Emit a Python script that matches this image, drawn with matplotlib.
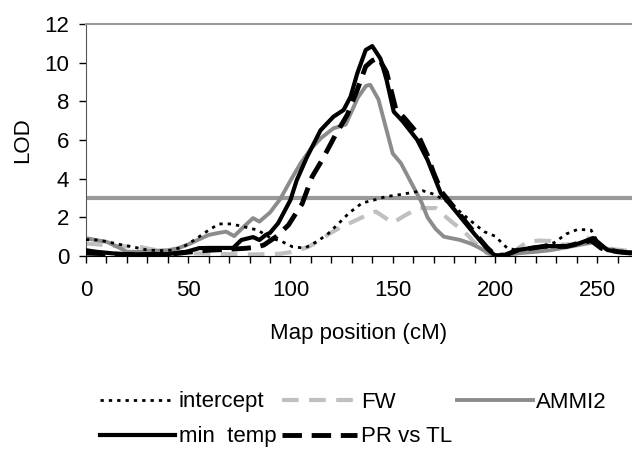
import matplotlib
matplotlib.use("Agg")
import matplotlib.pyplot as plt
from matplotlib.ticker import MultipleLocator

plt.rcParams["font.family"] = ["Liberation Sans", "DejaVu Sans"]

# LOD profiles, (position cM, LOD)
intercept_x = [0, 6, 12, 18, 24, 30, 36, 42, 48, 54, 60, 65, 71, 77, 84, 90, 96, 101, 107,
               113, 118.6, 123.6, 128.6, 135, 141, 146.6, 152, 158.8, 164.5, 170, 176,
               181.7, 188, 194.7, 200, 206, 211, 220, 229, 234.8, 240.5, 247, 252, 258, 267]
intercept_y = [0.85, 0.83, 0.7, 0.57, 0.45, 0.31, 0.28, 0.3, 0.5, 0.9, 1.34, 1.66, 1.66, 1.52,
               1.34, 0.95, 0.74, 0.48, 0.41, 0.75, 1.17, 1.69, 2.22, 2.74, 2.9, 3.07, 3.15,
               3.27, 3.38, 3.2, 2.85, 2.4, 1.83, 1.26, 1.03, 0.41, 0.3, 0.45, 0.69, 1.14,
               1.38, 1.34, 0.4, 0.3, 0.2]

fw_x = [0, 6, 12, 20, 26, 32, 38, 45, 50, 60, 70, 80, 90, 95, 100, 105, 109, 114, 119.6,
        124, 129, 135, 141.7, 146, 150, 156, 162.7, 171, 173.5, 179, 185, 190, 196, 200,
        205, 210, 216, 222, 227, 232, 238, 244, 248, 252, 258, 267]
fw_y = [0.65, 0.6, 0.52, 0.5, 0.48, 0.35, 0.25, 0.2, 0.15, 0.12, 0.1, 0.08, 0.1, 0.12, 0.2,
        0.35, 0.48, 0.8, 1.19, 1.45, 1.7, 2.0, 2.3, 2.0, 1.72, 2.1, 2.48, 2.48, 2.25, 1.75,
        1.26, 0.7, 0.15, 0.02, 0.05, 0.3, 0.75, 0.8, 0.78, 0.6, 0.6, 0.9, 0.93, 0.55, 0.35,
        0.25]

ammi2_x = [0, 5, 10, 15, 20, 25, 30, 35, 40, 45, 50, 55, 60, 65, 68.6, 72.5, 77, 81.7, 84.8,
           90, 95, 100, 105, 110, 115, 121, 127, 130, 133, 137, 139, 143, 146, 150, 154,
           160, 164, 167, 171, 175, 183, 188, 192, 196, 199, 205, 212, 220, 227, 235, 240,
           245, 248, 252, 258, 263, 267]
ammi2_y = [0.93, 0.82, 0.74, 0.5, 0.22, 0.22, 0.25, 0.28, 0.3, 0.4, 0.6, 0.85, 1.09, 1.2,
           1.26, 1.03, 1.5, 1.96, 1.78, 2.25, 2.95, 3.9, 4.8, 5.55, 6.1, 6.6, 6.8, 7.5, 8.2,
           8.8, 8.85, 8.1, 6.9, 5.3, 4.8, 3.6, 2.8, 2.0, 1.4, 1.0, 0.83, 0.65, 0.45, 0.2,
           0.05, 0.05, 0.15, 0.22, 0.3, 0.45, 0.55, 0.65, 0.7, 0.45, 0.3, 0.22, 0.2]

mintemp_x = [0, 5, 10, 15, 20, 30, 40, 49, 55.4, 60, 72, 76, 81.7, 84.8, 88, 90, 94, 98, 100,
             103, 108, 114.7, 121, 126, 129.4, 132.7, 136.8, 140, 144, 147, 150.5, 155, 162,
             167, 173.5, 181.7, 189.7, 196, 200, 205, 211, 218, 226, 235, 241, 248, 255,
             260, 267]
mintemp_y = [0.3, 0.22, 0.17, 0.12, 0.08, 0.1, 0.1, 0.22, 0.41, 0.42, 0.42, 0.83, 0.98, 0.83,
             1.1, 1.2, 1.7, 2.5, 2.9, 3.9, 5.1, 6.5, 7.2, 7.55, 8.24, 9.45, 10.65, 10.85,
             10.2, 9.1, 7.46, 6.95, 6.0, 4.97, 3.25, 2.2, 1.17, 0.4, 0.03, 0.05, 0.31, 0.42,
             0.52, 0.5, 0.65, 0.93, 0.31, 0.22, 0.15]

prtl_x = [0, 10, 20, 30, 40, 50, 60, 70, 78, 83, 87, 93, 99, 102, 105.7, 110.6, 115.5, 122,
          127.8, 132.7, 136.8, 140, 143, 147, 151.5, 156, 162, 167, 170, 174, 182, 190, 196,
          200, 205, 211, 224, 235, 247, 252, 260, 267]
prtl_y = [0.15, 0.12, 0.08, 0.08, 0.08, 0.2, 0.3, 0.35, 0.4, 0.45, 0.57, 1.0, 1.6, 2.1, 2.7,
          4.1, 4.97, 6.26, 7.3, 8.6, 9.8, 10.1, 10.25, 9.5, 7.6, 7.1, 6.35, 5.2, 4.3, 3.3,
          2.25, 1.2, 0.45, 0.05, 0.05, 0.3, 0.5, 0.5, 0.8, 0.4, 0.22, 0.15]

threshold = 3.0

fig = plt.figure(figsize=(6.32, 4.5), dpi=100, facecolor="white")
ax = fig.add_axes([0.136, 0.431, 0.864, 0.516])

ax.axhline(threshold, color="#999999", lw=3, zorder=1)
l_int, = ax.plot(intercept_x, intercept_y, color="black", lw=2, ls=(0, (1.2, 1.8)), zorder=3)
l_fw, = ax.plot(fw_x, fw_y, color="#c0c0c0", lw=3, ls=(0, (4, 2.5)), zorder=2)
l_ammi, = ax.plot(ammi2_x, ammi2_y, color="#8c8c8c", lw=2.8, zorder=2)
l_min, = ax.plot(mintemp_x, mintemp_y, color="black", lw=3, zorder=4)
l_pr, = ax.plot(prtl_x, prtl_y, color="black", lw=3.5, ls=(0, (4, 2)), zorder=4)

ax.set_xlim(0, 267)
ax.set_ylim(0, 12)
ax.xaxis.set_major_locator(MultipleLocator(50))
ax.xaxis.set_minor_locator(MultipleLocator(10))
ax.yaxis.set_major_locator(MultipleLocator(2))
ax.tick_params(axis="both", which="both", direction="out", length=5, width=1,
               labelsize=16, color="black")
ax.tick_params(axis="x", pad=12)
ax.tick_params(axis="y", pad=7)

ax.spines["right"].set_visible(False)
ax.spines["top"].set_color("#999999")
ax.spines["top"].set_linewidth(1.5)
ax.spines["left"].set_color("#555555")

ax.set_xlabel("Map position (cM)", fontsize=16, labelpad=16)
ax.set_ylabel("LOD", fontsize=16, labelpad=8)

# column-major fill: intercept/min temp, FW/PR vs TL, AMMI2
handles = [l_int, l_min, l_fw, l_pr, l_ammi]
labels = ["intercept", "min  temp", "FW", "PR vs TL", "AMMI2"]
fig.legend(handles, labels, ncol=3, loc="upper left",
           bbox_to_anchor=(0.158, 0.13), frameon=False, fontsize=16,
           handlelength=3.4, handletextpad=0.15, columnspacing=0.25,
           labelspacing=0.62, borderpad=0, borderaxespad=0)

fig.savefig("out.png", dpi=100, facecolor="white")
